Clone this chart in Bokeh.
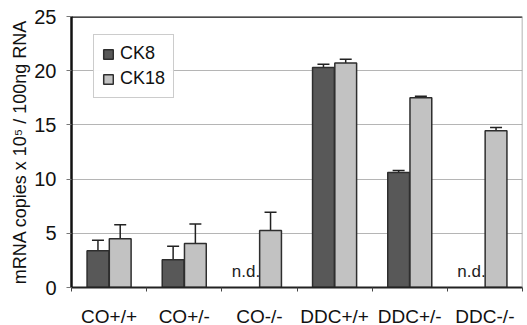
import math
from bokeh.plotting import figure
from bokeh.models import (ColumnDataSource, Range1d, FixedTicker, Whisker, TeeHead,
                          Span, Legend, LegendItem)
from bokeh.core.properties import value
from bokeh.embed import file_html
from bokeh.resources import INLINE

categories = ["CO+/+", "CO+/-", "CO-/-", "DDC+/+", "DDC+/-", "DDC-/-"]
ck8 = [3.4, 2.55, float("nan"), 20.3, 10.6, float("nan")]
ck8_err = [0.95, 1.25, float("nan"), 0.3, 0.2, float("nan")]
ck18 = [4.5, 4.05, 5.25, 20.7, 17.5, 14.45]
ck18_err = [1.3, 1.8, 1.7, 0.35, 0.15, 0.3]
y_ticks = [0, 5, 10, 15, 20, 25]

FONT = "Liberation Sans"
DARK = "#585858"
LIGHT = "#c2c2c2"
EDGE = "#2e2e2e"
OFF = 0.148
BW = 0.29

def build(vals, errs, off):
    xs, tops, lo, hi, nd = [], [], [], [], []
    for i, (v, e) in enumerate(zip(vals, errs)):
        if math.isnan(v):
            nd.append(i + 0.5 + off)
            continue
        xs.append(i + 0.5 + off)
        tops.append(v)
        lo.append(v - e)
        hi.append(v + e)
    return ColumnDataSource(dict(x=xs, top=tops, lower=lo, upper=hi)), nd

s8, nd8 = build(ck8, ck8_err, -OFF)
s18, nd18 = build(ck18, ck18_err, OFF)

p = figure(frame_width=451, frame_height=271, output_backend="svg", toolbar_location=None,
           x_range=Range1d(0, len(categories)), y_range=Range1d(0, 25),
           min_border_left=71, min_border_right=5, min_border_top=16, min_border_bottom=38)
p.outline_line_color = None
p.background_fill_color = "white"

r8 = p.vbar(x="x", top="top", width=BW, source=s8, fill_color=DARK, line_color=EDGE, line_width=1.5)
r18 = p.vbar(x="x", top="top", width=BW, source=s18, fill_color=LIGHT, line_color=EDGE, line_width=1.5)

for src in (s8, s18):
    w = Whisker(source=src, base="x", upper="upper", lower="lower",
                line_color="#222222", line_width=1.5,
                upper_head=TeeHead(size=12, line_color="#222222", line_width=1.5),
                lower_head=TeeHead(size=12, line_color="#222222", line_width=1.5))
    p.add_layout(w)

nd_src = ColumnDataSource(dict(x=[x - 0.03 for x in nd8], y=[0.6] * len(nd8), t=["n.d."] * len(nd8)))
p.text(x="x", y="y", text="t", source=nd_src, text_align="center", text_baseline="bottom",
       text_font=value(FONT), text_font_size="17px", text_color="#222222")

# frame edges
p.add_layout(Span(location=25, dimension="width", line_color="#111111", line_width=2.5))
p.add_layout(Span(location=len(categories), dimension="height", line_color="#999999", line_width=1.5))

# x axis
p.xaxis.ticker = FixedTicker(ticks=[i + 0.5 for i in range(len(categories))],
                             minor_ticks=list(range(len(categories) + 1)))
p.xaxis.major_label_overrides = {i + 0.5: c for i, c in enumerate(categories)}
p.xaxis.major_tick_line_color = None
p.xaxis.major_tick_out = 0
p.xaxis.major_tick_in = 0
p.xaxis.minor_tick_line_color = "#444444"
p.xaxis.minor_tick_out = 4
p.xaxis.minor_tick_in = 0
p.xaxis.axis_line_color = "#222222"
p.xaxis.axis_line_width = 2
p.xaxis.major_label_standoff = 14
p.xaxis.major_label_text_font = FONT
p.xaxis.major_label_text_font_size = "19px"
p.xaxis.major_label_text_color = "#111111"

# y axis
p.yaxis.ticker = FixedTicker(ticks=y_ticks)
p.yaxis.minor_tick_line_color = None
p.yaxis.major_tick_out = 5
p.yaxis.major_tick_in = 0
p.yaxis.major_tick_line_color = "#777777"
p.yaxis.axis_line_color = "#111111"
p.yaxis.axis_line_width = 2.5
p.yaxis.major_label_standoff = 10
p.yaxis.major_label_text_font = FONT
p.yaxis.major_label_text_font_size = "20px"
p.yaxis.major_label_text_color = "#111111"
p.yaxis.axis_label = "mRNA copies x 10\u2075 / 100ng RNA"
p.yaxis.axis_label_text_font = FONT
p.yaxis.axis_label_text_font_size = "18px"
p.yaxis.axis_label_text_font_style = "normal"
p.yaxis.axis_label_text_color = "#111111"
p.yaxis.axis_label_standoff = 1

p.xgrid.grid_line_color = None
p.ygrid.ticker = FixedTicker(ticks=y_ticks)
p.ygrid.grid_line_color = "#b5b5b5"
p.ygrid.grid_line_width = 1

legend = Legend(items=[LegendItem(label="CK8", renderers=[r8]),
                       LegendItem(label="CK18", renderers=[r18])],
                location=(22, 189))
legend.border_line_color = "#999999"
legend.border_line_width = 1
legend.background_fill_color = "white"
legend.label_text_font = FONT
legend.label_text_font_size = "18px"
legend.label_text_color = "#111111"
legend.glyph_width = 12
legend.glyph_height = 12
legend.label_height = 19
legend.spacing = 4
legend.padding = 8
legend.margin = 0
legend.label_standoff = 6
p.add_layout(legend, "center")

open("out.html", "w").write(file_html(p, INLINE))
